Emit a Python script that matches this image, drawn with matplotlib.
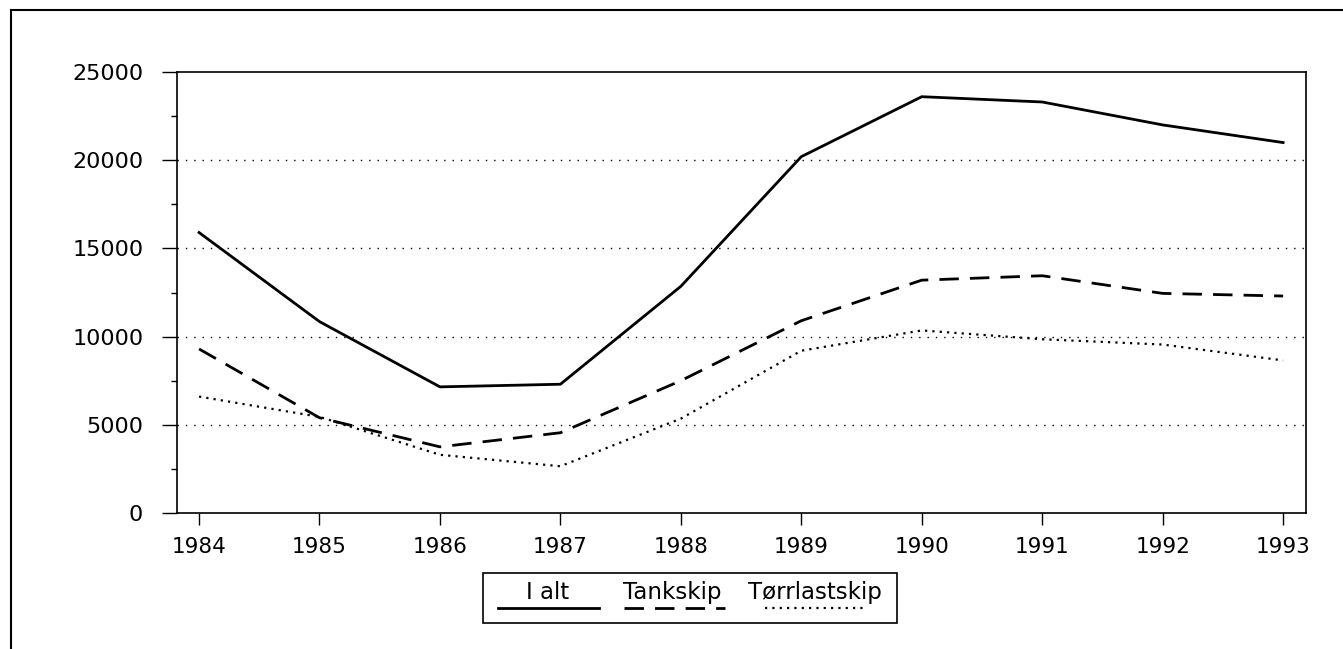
import matplotlib
matplotlib.use("Agg")
import matplotlib.pyplot as plt
from matplotlib.lines import Line2D
from matplotlib.patches import Rectangle
from matplotlib.ticker import MultipleLocator

# Data
years = [1984, 1985, 1986, 1987, 1988, 1989, 1990, 1991, 1992, 1993]
i_alt = [15900, 10850, 7150, 7300, 12850, 20200, 23600, 23300, 22000, 21000]
tankskip = [9300, 5400, 3750, 4550, 7500, 10900, 13200, 13450, 12450, 12300]
torrlastskip = [6600, 5450, 3300, 2650, 5350, 9200, 10350, 9850, 9550, 8650]
series_labels = ["I alt", "Tankskip", "Tørrlastskip"]

plt.rcParams["font.family"] = ["DejaVu Sans"]

W, H = 1343, 649
fig = plt.figure(figsize=(W / 100, H / 100), dpi=100)
ax = fig.add_axes([177 / W, 1 - 513 / H, (1306 - 177) / W, (513 - 72) / H])

styles = [
    dict(color="black", lw=2.0, linestyle="-"),
    dict(color="black", lw=2.0, linestyle=(0, (7, 4))),
    dict(color="black", lw=1.6, linestyle=(0, (1, 2.3))),
]
for vals, st in zip([i_alt, tankskip, torrlastskip], styles):
    ax.plot(years, vals, zorder=3, **st)

ax.set_xlim(1983.817, 1993.19)
ax.set_ylim(0, 25000)
ax.set_xticks(years)
ax.yaxis.set_major_locator(MultipleLocator(5000))
ax.yaxis.set_minor_locator(MultipleLocator(2500))

# dotted grid lines
for g in [5000, 10000, 15000, 20000]:
    ax.axhline(g, color="black", lw=1.0, linestyle=(0, (1, 5)), zorder=1)

for sp in ax.spines.values():
    sp.set_linewidth(1.2)

ax.tick_params(axis="x", length=8.6, width=1.0, pad=9, labelsize=15.5)
ax.tick_params(axis="y", which="major", length=10.8, width=1.0, pad=13.5, labelsize=16)
ax.tick_params(axis="y", which="minor", length=4.3, width=1.0)
fig.canvas.draw()
yt = ax.yaxis.get_major_ticks()
yt[0].tick1line.set_visible(False)
yt[-1].tick1line.set_visible(False)

# outer frame (top and left)
fig.add_artist(Line2D([11 / W, 1.0], [1 - 10 / H, 1 - 10 / H], color="black", lw=1.5))
fig.add_artist(Line2D([11 / W, 11 / W], [1 - 10 / H, 0.0], color="black", lw=1.5))

# legend: text above the line sample
fig.add_artist(Rectangle((483 / W, 1 - 623 / H), (897 - 483) / W, 50 / H,
                         fill=False, edgecolor="black", lw=1.2))
text_x = [548, 672, 815]
line_x = [(498, 599), (624, 725), (765, 866)]
for lab, tx, (x0, x1), st in zip(series_labels, text_x, line_x, styles):
    fig.text(tx / W, 1 - 599 / H, lab, ha="center", va="baseline", fontsize=16.5)
    fig.add_artist(Line2D([x0 / W, x1 / W], [1 - 608 / H, 1 - 608 / H], **st))

fig.savefig("out.png", dpi=100)
